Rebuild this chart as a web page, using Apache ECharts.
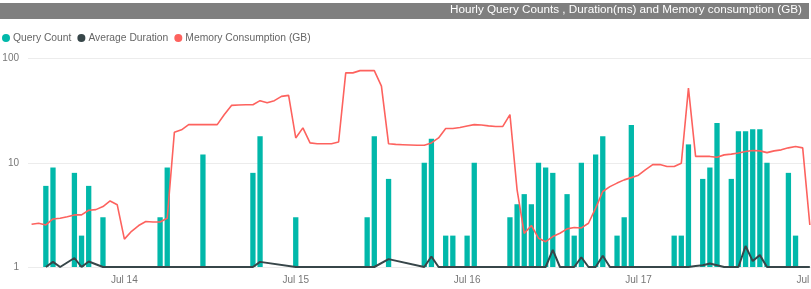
<!DOCTYPE html>
<html>
<head>
<meta charset="utf-8">
<script src="https://cdn.jsdelivr.net/npm/echarts@6/dist/echarts.min.js"></script>
<style>
html,body{margin:0;padding:0;background:#fff;}
#chart{width:811px;height:289px;}
</style>
</head>
<body>
<div id="chart"></div>
<script>
// ---- data ----
const dayLabels = ['Jul 13', 'Jul 14', 'Jul 15', 'Jul 16', 'Jul 17', 'Jul 18'];
const startHour = 11;      // first category: Jul 13 11:00
const hourCount = 110;     // hourly categories
const yTicks = [1, 10, 100];

const queryCount = [
  null, null, 6, 9, null, null, 8, 2, 6, null, 3,
  null, null, null, null, null, null, null, 3, 9, null, null, null, null, 12,
  null, null, null, null, null, null, 8, 18, null, null, null, null, 3,
  null, null, null, null, null, null, null, null, null, 3, 18, null, 7,
  null, null, null, null, 10, 17, null, 2, 2, null, 2, 10,
  null, null, null, null, 3, 4, 5, 4, 10, 9, 8, null, 5, 2, 10, null, 12, 18,
  null, 2, 3, 23, null, null, null, null, null, 2, 2, 15, null, 7, 9, 24,
  null, 7, 20, 20, 21, 21, 10, null, null, 8, 2, null, null
];

const avgDuration = [
  null, null, 1, 1.12, 1, null, 1.22, 1, 1.13, null, 1,
  null, null, null, null, null, null, null, 1, 1, null, null, null, null, 1,
  null, null, null, null, null, null, 1, 1.12, null, null, null, null, 1,
  null, null, null, null, null, null, null, null, null, 1, 1, null, 1.19,
  null, null, null, null, 1, 1.26, 1, 1, 1, null, 1, 1,
  null, null, null, null, 1, 1, 1, 1, 1, 1, 1.46, 1, 1, 1, 1.24, 1, 1, 1.28,
  1, 1, 1, 1, null, null, null, null, null, 1, 1, 1, 1.02, 1.04, 1.08, 1.04,
  1, 1, 1, 1.59, 1.14, 1.3, 1, null, null, 1, 1, null, 1
];

const memoryGB = [
  2.57, 2.63, 2.53, 2.89, 2.94, 3.04, 3.16, 3.16, 3.5, 3.55, 3.8,
  4.3, 3.95, 1.85, 2.2, 2.5, 2.73, 2.7, 2.7, 2.94, 19.6, 20.7, 23.2, 23.2, 23.2,
  23.2, 23.2, 29, 35.5, 35.8, 36, 36, 39.4, 37.6, 39.4, 43.3, 44.3, 17.3,
  21.6, 15.5, 15.2, 15.2, 15.2, 15.8, 72.8, 72.8, 76.5, 76.5, 76.5, 54.3, 15.2,
  15, 14.9, 14.8, 14.7, 14.7, 15.5, 17.3, 21.3, 21.3, 21.8, 22.5, 23.2,
  23, 22.6, 22.3, 22.3, 29, 5.5, 2.1, 2.5, 1.89, 1.75, 1.96, 2.11, 2.32, 2.39, 2.37, 2.63, 3.67, 5.3,
  5.9, 6.38, 6.85, 7.2, 7.6, 8.6, 9.6, 9.6, 9.2, 9.2, 9.9, 52, 11.5, 11.5, 11.5, 11.3,
  11.9, 12.1, 12.4, 12.8, 13.1, 13, 12.5, 13, 13.3, 13.9, 14.3, 13.9, 2.53
];

// hourly category names built from the day labels
const hours = [];
for (let i = 0; i < hourCount; i++) {
  const h = startHour + i;
  const d = Math.floor(h / 24);
  const hh = h % 24;
  hours.push(dayLabels[d] + ' ' + (hh < 10 ? '0' : '') + hh + ':00');
}

const FONT = 'Liberation Sans, Arial, sans-serif';
const chart = echarts.init(document.getElementById('chart'), null, {renderer: 'canvas'});
chart.setOption({
  animation: false,
  backgroundColor: '#ffffff',
  textStyle: {fontFamily: FONT},
  graphic: [{
    type: 'rect', z: 0,
    shape: {x: 0, y: 3, width: 809, height: 16},
    style: {fill: '#7f7f7f'}
  }],
  title: {
    text: 'Hourly Query Counts , Duration(ms) and Memory consumption (GB)',
    right: 9, top: 4, padding: 0,
    textStyle: {color: '#ffffff', fontSize: 11.7, fontWeight: 'normal', fontFamily: FONT}
  },
  legend: {
    left: 2, top: 33, padding: 0,
    icon: 'circle', itemWidth: 8, itemHeight: 8, itemGap: 6,
    textStyle: {color: '#666666', fontSize: 10.3, fontFamily: FONT, padding: [0, 0, 0, -2]},
    data: ['Query Count', 'Average Duration', 'Memory Consumption (GB)']
  },
  grid: {left: 28, top: 58.5, width: 785.4, height: 208.5, containLabel: false, outerBoundsMode: 'none'},
  xAxis: {
    type: 'category',
    data: hours,
    boundaryGap: true,
    axisLine: {show: false},
    axisTick: {show: false},
    splitLine: {show: false},
    axisLabel: {
      interval: function (idx, val) { return val.slice(-5) === '00:00'; },
      formatter: function (val) { return val.slice(0, 6); },
      color: '#777777', fontSize: 10, margin: 8, fontFamily: FONT
    }
  },
  yAxis: {
    type: 'log', logBase: 10, min: yTicks[0], max: yTicks[yTicks.length - 1],
    axisLine: {show: false},
    axisTick: {show: false},
    splitLine: {show: true, lineStyle: {color: '#ececec', width: 1}},
    axisLabel: {color: '#777777', fontSize: 10, margin: 9, fontFamily: FONT}
  },
  series: [
    {
      name: 'Query Count', type: 'bar', data: queryCount,
      barWidth: 5.3, itemStyle: {color: '#01B8AA'}, z: 2
    },
    {
      name: 'Average Duration', type: 'line', data: avgDuration,
      connectNulls: true, symbol: 'none', clip: false,
      lineStyle: {color: '#374649', width: 2}, itemStyle: {color: '#374649'}, z: 3
    },
    {
      name: 'Memory Consumption (GB)', type: 'line', data: memoryGB,
      symbol: 'none', lineStyle: {color: '#FD625E', width: 1.6}, itemStyle: {color: '#FD625E'}, z: 4
    }
  ]
});
</script>
</body>
</html>
